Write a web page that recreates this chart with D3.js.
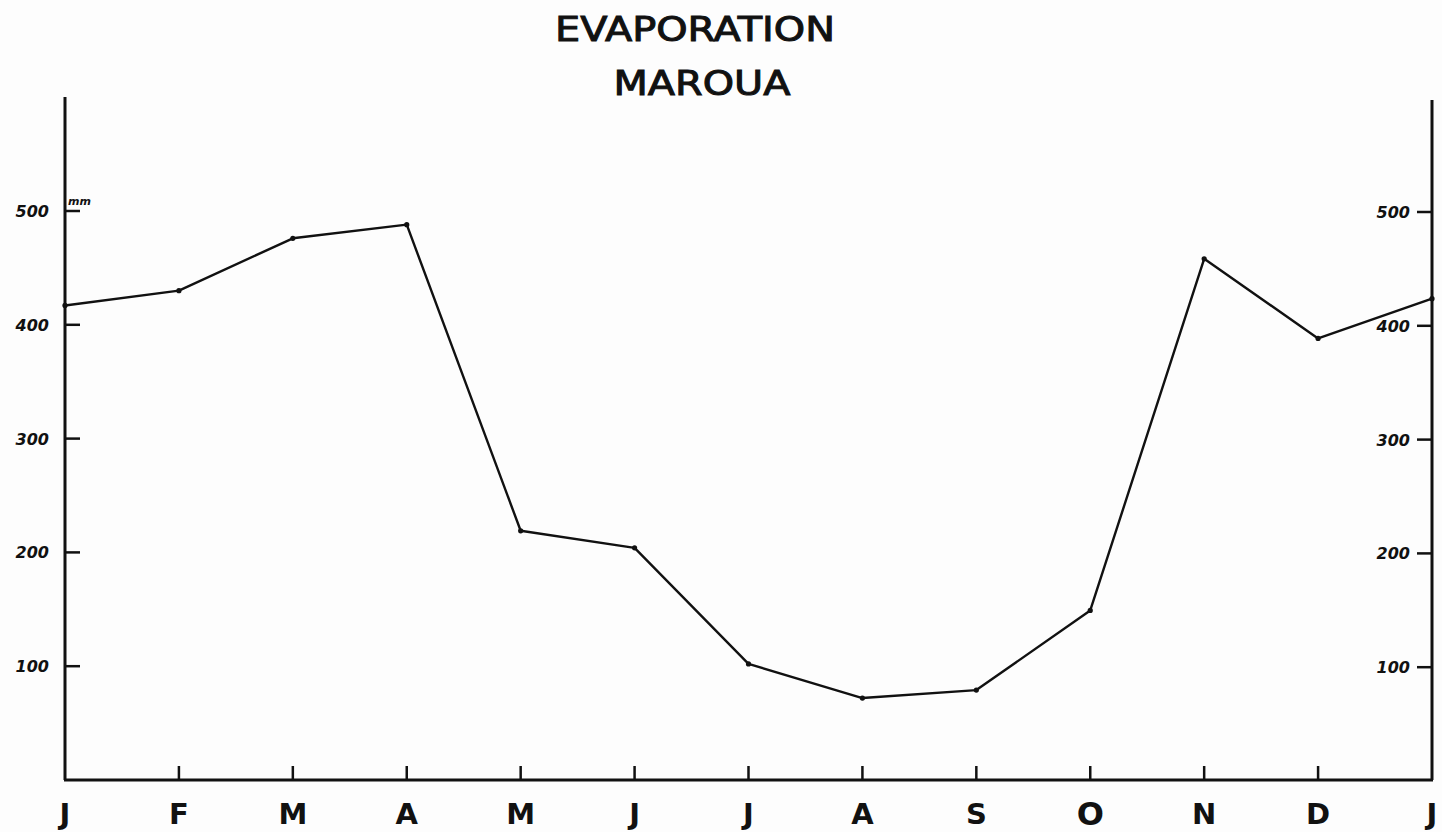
<!DOCTYPE html>
<html><head><meta charset="utf-8">
<script src="https://cdn.jsdelivr.net/npm/d3@7"></script>
<style>body{margin:0;background:#fdfdfd;} svg{display:block;}</style>
</head><body>
<svg id="c" width="1442" height="832"></svg>
<script>
const months = ["J","F","M","A","M","J","J","A","S","O","N","D","J"];
const evaporation = [417, 430, 476, 488, 219, 204, 102, 72, 79, 149, 458, 388, 423];
const yTicks = [100, 200, 300, 400, 500];
const titleLines = ["EVAPORATION", "MAROUA"];
const unitLabel = "mm";

(function () {
const svg = d3.select("#c");
const mLeft = 65, mRight = 1432, mBottom = 780, mTop = 97;
const x = d3.scaleLinear().domain([0, months.length - 1]).range([mLeft, mRight]);
const y = d3.scaleLinear().domain([0, 500]).range([mBottom, 211]);
const ink = "#111";

// axes lines
svg.append("line").attr("x1", mLeft).attr("x2", mLeft).attr("y1", mTop).attr("y2", mBottom)
  .attr("stroke", ink).attr("stroke-width", 3);
svg.append("line").attr("x1", mRight).attr("x2", mRight).attr("y1", mTop + 3).attr("y2", mBottom)
  .attr("stroke", ink).attr("stroke-width", 3);
svg.append("line").attr("x1", mLeft - 1).attr("x2", mRight + 1).attr("y1", mBottom).attr("y2", mBottom)
  .attr("stroke", ink).attr("stroke-width", 3);

// left ticks & labels
const lt = svg.append("g");
lt.selectAll("line").data(yTicks).join("line")
  .attr("x1", mLeft).attr("x2", mLeft + 15).attr("y1", d => y(d)).attr("y2", d => y(d))
  .attr("stroke", ink).attr("stroke-width", 2.5);
lt.selectAll("text").data(yTicks).join("text")
  .attr("x", 49).attr("y", d => y(d) + 6).attr("text-anchor", "end")
  .attr("font-family", "DejaVu Sans").attr("font-weight", "bold").attr("font-style", "italic")
  .attr("font-size", 16).attr("fill", ink).text(d => d);

// right ticks & labels
const rt = svg.append("g");
rt.selectAll("line").data(yTicks).join("line")
  .attr("x1", mRight - 15).attr("x2", mRight).attr("y1", d => y(d) + 1).attr("y2", d => y(d) + 1)
  .attr("stroke", ink).attr("stroke-width", 2.5);
rt.selectAll("text").data(yTicks).join("text")
  .attr("x", 1410).attr("y", d => y(d) + 7).attr("text-anchor", "end")
  .attr("font-family", "DejaVu Sans").attr("font-weight", "bold").attr("font-style", "italic")
  .attr("font-size", 16).attr("fill", ink).text(d => d);

// unit
svg.append("text").attr("x", 68).attr("y", 205)
  .attr("font-family", "DejaVu Sans").attr("font-weight", "bold").attr("font-style", "italic")
  .attr("font-size", 11).attr("fill", ink).text(unitLabel);

// bottom ticks
svg.append("g").selectAll("line").data(months.slice(1, -1)).join("line")
  .attr("x1", (d, i) => x(i + 1)).attr("x2", (d, i) => x(i + 1))
  .attr("y1", mBottom - 14).attr("y2", mBottom).attr("stroke", ink).attr("stroke-width", 2.5);

// month labels
svg.append("g").selectAll("text").data(months).join("text")
  .attr("x", (d, i) => x(i)).attr("y", (d, i) => i === 9 ? 825 : 824).attr("text-anchor", "middle")
  .attr("font-family", "DejaVu Sans").attr("font-weight", "bold")
  .attr("font-size", (d, i) => i === 9 ? 32 : 29).attr("fill", ink).text(d => d);

// line
const line = d3.line().x((d, i) => x(i)).y(d => y(d));
svg.append("path").datum(evaporation).attr("d", line)
  .attr("fill", "none").attr("stroke", ink).attr("stroke-width", 2.4).attr("stroke-linejoin", "round");
svg.append("g").selectAll("circle").data(evaporation).join("circle")
  .attr("cx", (d, i) => x(i)).attr("cy", d => y(d)).attr("r", 2.6).attr("fill", ink);

// title
svg.append("text").attr("x", 695).attr("y", 41).attr("text-anchor", "middle")
  .attr("font-family", "DejaVu Sans").attr("font-size", 34).attr("fill", ink)
  .attr("stroke", ink).attr("stroke-width", 1)
  .attr("textLength", 280).attr("lengthAdjust", "spacingAndGlyphs").text(titleLines[0]);
svg.append("text").attr("x", 702).attr("y", 95).attr("text-anchor", "middle")
  .attr("font-family", "DejaVu Sans").attr("font-size", 34).attr("fill", ink)
  .attr("stroke", ink).attr("stroke-width", 1)
  .attr("textLength", 177).attr("lengthAdjust", "spacingAndGlyphs").text(titleLines[1]);
})();
</script>
</body></html>
